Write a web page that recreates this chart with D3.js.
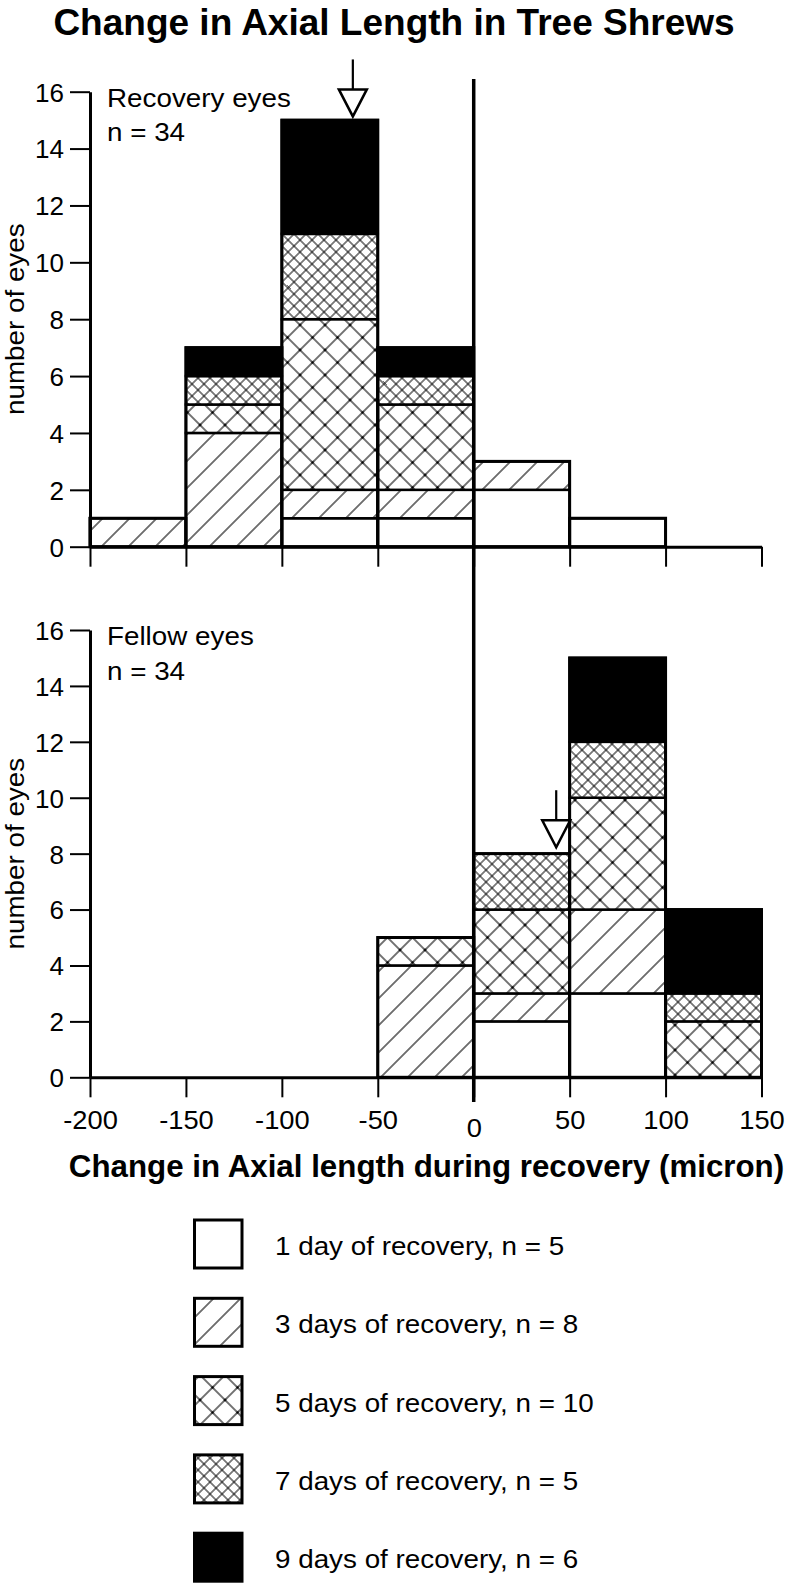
<!DOCTYPE html>
<html>
<head>
<meta charset="utf-8">
<script src="https://cdn.jsdelivr.net/npm/d3@7"></script>
<style>
  html, body { margin: 0; padding: 0; background: #fff; }
  svg { display: block; }
  text { font-family: "Liberation Sans", Arial, Helvetica, sans-serif; fill: #000; }
</style>
</head>
<body>
<svg id="chart" width="786" height="1585"></svg>
<script>
// ---------------- DATA ----------------
const binStarts = [-200, -150, -100, -50, 0, 50, 100];
const binWidth = 50;
const seriesKeys = ["d1", "d3", "d5", "d7", "d9"];
const seriesLabels = [
  "1 day of recovery, n = 5",
  "3 days of recovery, n = 8",
  "5 days of recovery, n = 10",
  "7 days of recovery, n = 5",
  "9 days of recovery, n = 6"
];
// Recovery eyes (top panel), counts per bin
const recovery1 = [0, 0, 1, 1, 2, 1, 0];
const recovery3 = [1, 4, 1, 1, 1, 0, 0];
const recovery5 = [0, 1, 6, 3, 0, 0, 0];
const recovery7 = [0, 1, 3, 1, 0, 0, 0];
const recovery9 = [0, 1, 4, 1, 0, 0, 0];
// Fellow eyes (bottom panel)
const fellow1 = [0, 0, 0, 0, 2, 3, 0];
const fellow3 = [0, 0, 0, 4, 1, 3, 0];
const fellow5 = [0, 0, 0, 1, 3, 4, 2];
const fellow7 = [0, 0, 0, 0, 2, 2, 1];
const fellow9 = [0, 0, 0, 0, 0, 3, 3];

const xTicks = [-200, -150, -100, -50, 0, 50, 100, 150];
const yTicks = [0, 2, 4, 6, 8, 10, 12, 14, 16];
const panelTitles = ["Recovery eyes", "Fellow eyes"];
const panelN = ["n = 34", "n = 34"];
const arrowX = [-63, 43];      // mean change (micron)
const arrowTip = [15.13, 8.23]; // arrow tip height in count units

const titleText = "Change in Axial Length in Tree Shrews";
const xLabelText = "Change in Axial length during recovery (micron)";
const yLabelText = "number of eyes";

// ---------------- SETUP ----------------
const svg = d3.select("#chart");
const defs = svg.append("defs");

function hatch(id, s, cross, sw, dots) {
  const p = defs.append("pattern")
    .attr("id", id).attr("patternUnits", "userSpaceOnUse")
    .attr("width", s).attr("height", s)
    .attr("patternTransform", "rotate(45)");
  p.append("rect").attr("width", s).attr("height", s).attr("fill", "#fff");
  p.append("line").attr("x1", 0).attr("y1", -1).attr("x2", 0).attr("y2", s + 1)
    .attr("stroke", "#000").attr("stroke-width", sw);
  p.append("line").attr("x1", s).attr("y1", -1).attr("x2", s).attr("y2", s + 1)
    .attr("stroke", "#000").attr("stroke-width", sw);
  if (cross) {
    p.append("line").attr("x1", -1).attr("y1", 0).attr("x2", s + 1).attr("y2", 0)
      .attr("stroke", "#000").attr("stroke-width", sw);
    p.append("line").attr("x1", -1).attr("y1", s).attr("x2", s + 1).attr("y2", s)
      .attr("stroke", "#000").attr("stroke-width", sw);
  }
  if (dots) {
    [[0,0],[s,0],[0,s],[s,s]].forEach(([cx,cy]) =>
      p.append("circle").attr("cx", cx).attr("cy", cy).attr("r", dots).attr("fill", "#000"));
  }
}
hatch("p3", 27 / Math.SQRT2, false, 1.1, 0);
hatch("p5", 25 / Math.SQRT2, true, 1.1, 1.4);
hatch("p7", 12 / Math.SQRT2, true, 1.0, 0);

const fills = { d1: "#fff", d3: "url(#p3)", d5: "url(#p5)", d7: "url(#p7)", d9: "#000" };

const x = d3.scaleLinear().domain([-200, 150]).range([90, 761.5]);
const yTop = d3.scaleLinear().domain([0, 16]).range([546.7, 91.7]);
const yBot = d3.scaleLinear().domain([0, 16]).range([1077.3, 630]);

function stretchedText(g, str, tx, ty, size, anchor, weight, sx, rotate) {
  return g.append("text")
    .attr("transform", `translate(${tx},${ty})` + (rotate ? ` rotate(${rotate})` : "") + ` scale(${sx},1)`)
    .attr("text-anchor", anchor)
    .attr("font-size", size)
    .attr("font-weight", weight || "normal")
    .text(str);
}

const FS = 26, SXN = 1.07;

function drawPanel(idx, y, series, showLabels) {
  const g = svg.append("g");
  const rows = binStarts.map((b, i) => {
    const r = { bin: b };
    seriesKeys.forEach((k, j) => r[k] = series[j][i]);
    return r;
  });
  const stacked = d3.stack().keys(seriesKeys)(rows);

  // segments
  stacked.forEach(layer => {
    g.selectAll(null).data(layer.filter(d => d[1] - d[0] > 0)).enter()
      .append("rect")
      .attr("x", d => x(d.data.bin))
      .attr("width", d => x(d.data.bin + binWidth) - x(d.data.bin))
      .attr("y", d => y(d[1]))
      .attr("height", d => y(d[0]) - y(d[1]))
      .attr("fill", fills[layer.key])
      .attr("stroke", "#000").attr("stroke-width", 2.5);
  });
  // outlines
  const totals = rows.map(r => ({ bin: r.bin, total: d3.sum(seriesKeys, k => r[k]) }));
  g.selectAll(null).data(totals.filter(d => d.total > 0)).enter()
    .append("rect")
    .attr("x", d => x(d.bin))
    .attr("width", d => x(d.bin + binWidth) - x(d.bin))
    .attr("y", d => y(d.total))
    .attr("height", d => y(0) - y(d.total))
    .attr("fill", "none").attr("stroke", "#000").attr("stroke-width", 3);

  // y axis
  const ya = g.append("g").attr("transform", `translate(${x(-200)},0)`)
    .call(d3.axisLeft(y).tickValues(yTicks).tickSize(20).tickSizeOuter(0).tickPadding(6));
  ya.select(".domain").attr("stroke", "#000").attr("stroke-width", 3);
  ya.selectAll(".tick line").attr("stroke", "#000").attr("stroke-width", 2);
  ya.selectAll(".tick text")
    .attr("font-size", FS).attr("font-family", "Liberation Sans, Arial, sans-serif")
    .attr("fill", "#000").attr("x", -26).attr("dy", "0.36em");

  // x axis
  const xa = g.append("g").attr("transform", `translate(0,${y(0)})`)
    .call(d3.axisBottom(x).tickValues(xTicks).tickSize(20).tickSizeOuter(0)
      .tickFormat(showLabels ? d3.format("d") : () => ""));
  xa.select(".domain").attr("stroke", "#000").attr("stroke-width", 3);
  xa.selectAll(".tick line").attr("stroke", "#000").attr("stroke-width", 2);
  xa.selectAll(".tick text")
    .attr("font-size", FS).attr("font-family", "Liberation Sans, Arial, sans-serif")
    .attr("fill", "#000")
    .attr("y", d => d === 0 ? 60 : 52).attr("dy", 0)
    .attr("transform", `scale(1.05,1)`)
    .text(d => showLabels ? (d < 0 ? "-" + Math.abs(d) : String(d)) : "");

  // panel labels
  stretchedText(g, panelTitles[idx], 107, y(16) + 15, FS, "start", "normal", SXN);
  stretchedText(g, panelN[idx], 107, y(16) + 49.5, FS, "start", "normal", SXN);

  // y label
  stretchedText(g, yLabelText, 24, (y(0) + y(16)) / 2, FS, "middle", "normal", SXN, -90);

  // arrow
  const ax = x(arrowX[idx]);
  const tip = y(arrowTip[idx]);
  const th = 27, hw = 14, stem = 30;
  g.append("line").attr("x1", ax).attr("x2", ax).attr("y1", tip - th - stem).attr("y2", tip - th)
    .attr("stroke", "#000").attr("stroke-width", 2.2);
  g.append("path").attr("d", `M${ax - hw},${tip - th} L${ax + hw},${tip - th} L${ax},${tip} Z`)
    .attr("fill", "#fff").attr("stroke", "#000").attr("stroke-width", 2.5).attr("stroke-linejoin", "miter");
}

drawPanel(0, yTop, [recovery1, recovery3, recovery5, recovery7, recovery9], false);
drawPanel(1, yBot, [fellow1, fellow3, fellow5, fellow7, fellow9], true);

// zero line through both panels
svg.append("line").attr("x1", x(0)).attr("x2", x(0)).attr("y1", 79).attr("y2", 1102)
  .attr("stroke", "#000").attr("stroke-width", 3.5);

// title and x label (bold)
stretchedText(svg, titleText, 394, 35, 37, "middle", "bold", 1.0);
stretchedText(svg, xLabelText, 426.5, 1177, 31, "middle", "bold", 1.01);

// legend
const lg = svg.append("g");
seriesKeys.forEach((k, i) => {
  const top = 1220 + i * 78.3;
  lg.append("rect").attr("x", 194.5).attr("y", top).attr("width", 47.5).attr("height", 48)
    .attr("fill", fills[k]).attr("stroke", "#000").attr("stroke-width", 3);
  stretchedText(lg, seriesLabels[i], 275, top + 35, FS, "start", "normal", SXN);
});
</script>
</body>
</html>
